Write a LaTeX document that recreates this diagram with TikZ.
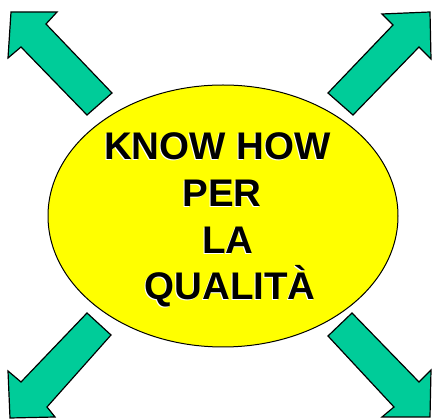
\documentclass[tikz,border=0pt]{standalone}
\usepackage{fontspec}
\setmainfont{Liberation Sans}
\usetikzlibrary{shapes.geometric}
\definecolor{arrowgreen}{RGB}{0,204,153}
\definecolor{bubble}{RGB}{255,255,0}
\begin{document}
\begin{tikzpicture}[x=1pt,y=-1pt,
  arrowshape/.style={fill=arrowgreen,draw=black,line width=1.2pt,line join=miter},
  label/.style={anchor=base,font=\bfseries\fontsize{38.5}{46}\selectfont,inner sep=0pt},
  shadowlbl/.style={label,text=white}]
\useasboundingbox (0,0) rectangle (437,419);
% arrows
\draw[arrowshape] (11,12) -- (57,12) -- (46,24) -- (112,93) -- (87,115) -- (21,47) -- (8,58) -- cycle;
\draw[arrowshape] (430,12) -- (431,59) -- (419,47) -- (353,115) -- (328,93) -- (393,25) -- (382,14) -- cycle;
\draw[arrowshape] (10,418) -- (8,371) -- (21,382) -- (87,313) -- (111,335) -- (47,407) -- (55,417) -- cycle;
\draw[arrowshape] (430,417) -- (382,417) -- (394,407) -- (328,336) -- (352,313) -- (419,382) -- (431,370) -- cycle;
% ellipse
\node[draw=black,fill=bubble,line width=1pt,ellipse,minimum width=350pt,minimum height=262pt,inner sep=0pt] (bubble) at (223,216) {};
% text with white shadow
\foreach \t/\cx/\by [count=\i] in {KNOW HOW/217.5/160,PER/222/207,LA/228/254,QUALIT\`A/230/300}{
  \node[shadowlbl] (s\i) at (\cx-1,\by+1) {\t};
  \node[label] (t\i) at (\cx,\by) {\t};
}
\end{tikzpicture}
\end{document}
